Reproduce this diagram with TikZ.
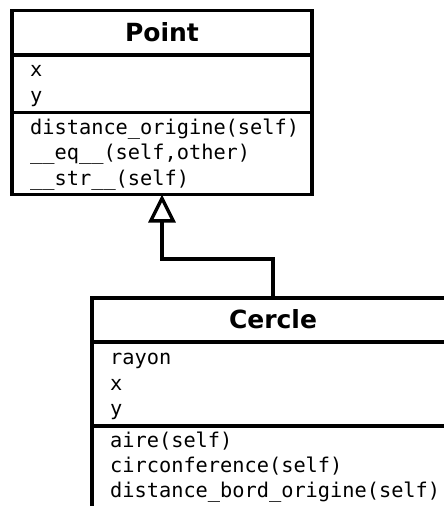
\documentclass[tikz,border=0pt]{standalone}
\usepackage{fontspec}
\newfontfamily\monof{DejaVu Sans Mono}
\newfontfamily\titlef{DejaVu Sans}
\usetikzlibrary{arrows.meta}
\tikzset{
  umlbox/.style={draw=black, line width=3.4pt, fill=white, inner sep=0pt, outer sep=0pt},
  divider/.style={draw=black, line width=3.4pt},
  member/.style={anchor=base west, inner sep=0pt, font=\monof\fontsize{20.3}{24}\selectfont},
  umltitle/.style={anchor=base, inner sep=0pt, font=\titlef\bfseries\fontsize{25}{30}\selectfont},
  inherit/.style={draw=black, line width=3.4pt, line join=miter,
    -{Triangle[open, length=28pt, width=27pt, fill=white]}}
}
\begin{document}
\begin{tikzpicture}[x=1pt, y=-1pt]
\useasboundingbox (0,0) rectangle (444,506);
\clip (0,0) rectangle (444,506);
\fill[white] (0,0) rectangle (444,506);

% Point class
\node[umlbox, minimum width=300pt, minimum height=184pt] (point) at (162,102.5) {};
\draw[divider] (point.west |- 0,55) -- (point.east |- 0,55);
\draw[divider] (point.west |- 0,112.5) -- (point.east |- 0,112.5);
\node[umltitle] (ptitle) at (162,41) {Point};
\node[member] (px) at (30,76) {x};
\node[member] (py) at (30,102) {y};
\node[member] (pm1) at (30,134) {distance\_origine(self)};
\node[member] (pm2) at (30,159.5) {\_\_eq\_\_(self,other)};
\node[member] (pm3) at (30,185) {\_\_str\_\_(self)};

% Cercle class
\node[umlbox, minimum width=362pt, minimum height=222pt] (cercle) at (273,409) {};
\draw[divider] (cercle.west |- 0,342) -- (cercle.east |- 0,342);
\draw[divider] (cercle.west |- 0,426) -- (cercle.east |- 0,426);
\node[umltitle] (ctitle) at (273,328) {Cercle};
\node[member] (cr) at (110,364) {rayon};
\node[member] (cx) at (110,390) {x};
\node[member] (cy) at (110,415.5) {y};
\node[member] (cm1) at (110,447) {aire(self)};
\node[member] (cm2) at (110,472) {circonference(self)};
\node[member] (cm3) at (110,497.5) {distance\_bord\_origine(self)};

% inheritance
\draw[inherit] (cercle.north) -- ++(0,-39) -| (point.south);
\end{tikzpicture}
\end{document}
